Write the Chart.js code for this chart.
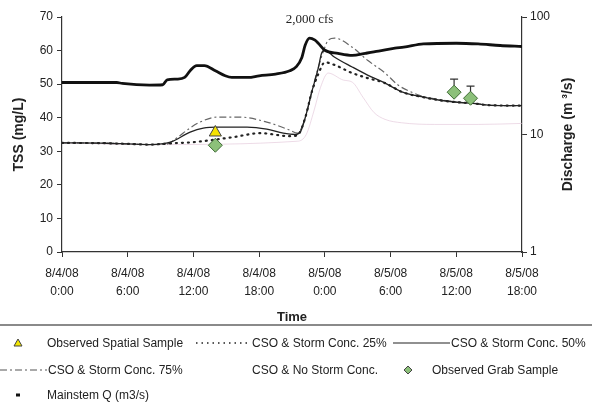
<!DOCTYPE html>
<html lang="en">
<head>
<meta charset="UTF-8">
<title>TSS and discharge</title>
<script src="https://cdn.jsdelivr.net/npm/chart.js"></script>
<style>
  body { margin: 0; background: #fff; font-family: "Liberation Sans", Arial, sans-serif; color: #222; }
  #wrap { position: relative; width: 592px; height: 408px; overflow: hidden; }
  #chart { position: absolute; left: 0; top: 0; }
  .sep { position: absolute; left: 0; top: 324px; width: 592px; height: 2px; background: #8a8a8a; }
  .lg { position: absolute; font-size: 12px; line-height: 14px; white-space: nowrap; }
  #marks { position: absolute; left: 0; top: 326px; }
</style>
</head>
<body>
<div id="wrap">
  <canvas id="chart" width="592" height="327"></canvas>
  <div class="sep"></div>
  <svg id="marks" width="592" height="82">
    <polygon points="18,13 22,20 14,20" fill="#f2e600" stroke="#444" stroke-width="1"/>
    <line x1="196" y1="17" x2="250" y2="17" stroke="#222" stroke-width="1.6" stroke-dasharray="1.5 4"/>
    <line x1="393" y1="17" x2="450" y2="17" stroke="#222" stroke-width="1.2"/>
    <line x1="0" y1="44" x2="47" y2="44" stroke="#555" stroke-width="1.2" stroke-dasharray="7 3 2 3"/>
    <polygon points="408,40 412,44 408,48 404,44" fill="#8cc07a" stroke="#444" stroke-width="1"/>
    <rect x="16" y="67.5" width="4" height="3" fill="#111"/>
  </svg>
  <div class="lg" style="left:47px; top:336px;">Observed Spatial Sample</div>
  <div class="lg" style="left:252px; top:336px;">CSO &amp; Storm Conc. 25%</div>
  <div class="lg" style="left:451px; top:336px;">CSO &amp; Storm Conc. 50%</div>
  <div class="lg" style="left:48px; top:363px;">CSO &amp; Storm Conc. 75%</div>
  <div class="lg" style="left:252px; top:363px;">CSO &amp; No Storm Conc.</div>
  <div class="lg" style="left:432px; top:363px;">Observed Grab Sample</div>
  <div class="lg" style="left:47px; top:388px;">Mainstem Q (m3/s)</div>
</div>

<script>
// hours since 8/4/08 0:00
const timeLabels = [
  ["8/4/08", "0:00"], ["8/4/08", "6:00"], ["8/4/08", "12:00"], ["8/4/08", "18:00"],
  ["8/5/08", "0:00"], ["8/5/08", "6:00"], ["8/5/08", "12:00"], ["8/5/08", "18:00"]
];
const qTicks = [1, 10, 100];

// CSO & Storm Conc. 25% (TSS mg/L)
const t25 = [0, 4, 6, 8, 10.1, 11.9, 15.6, 18.1, 20.8, 21.5, 22.2, 22.8, 23.4, 24.0, 24.9, 26.5, 27.9, 29.5, 31.1, 33.0, 34.5, 36.1, 37.5, 39.1, 42];
const v25 = [32.5, 32.4, 32.2, 32.0, 32.4, 32.7, 34.2, 35.4, 34.5, 34.8, 39.9, 47.6, 53.0, 56.5, 55.7, 53.3, 51.8, 50.3, 47.6, 46.1, 45.2, 44.6, 44.3, 43.7, 43.6];

// CSO & Storm Conc. 50%
const t50 = [0, 4, 6, 8, 9.9, 11.7, 12.9, 14.2, 16.9, 18.7, 20.2, 21.3, 21.8, 22.2, 22.8, 23.4, 23.7, 24.0, 24.9, 26.5, 27.9, 29.5, 31.1, 33.0, 34.5, 36.1, 37.5, 39.1, 42];
const v50 = [32.5, 32.4, 32.2, 32.0, 32.7, 35.7, 36.9, 37.2, 37.2, 36.6, 35.4, 35.0, 36.0, 39.9, 47.6, 54.8, 59.2, 60.1, 58.0, 55.1, 52.7, 50.3, 47.6, 46.1, 45.2, 44.6, 44.3, 43.7, 43.6];

// CSO & Storm Conc. 75%
const t75 = [0, 4, 6, 8, 9.5, 10.5, 11.5, 12.6, 14.2, 16.2, 18.7, 20.8, 21.5, 22.2, 22.8, 23.4, 24.0, 24.3, 24.9, 26.5, 27.9, 29.5, 30.7, 32.0, 33.0, 34.5, 36.1, 37.5, 39.1, 42];
const v75 = [32.5, 32.4, 32.2, 32.0, 32.1, 34.0, 36.5, 38.7, 40.2, 40.2, 38.7, 36.3, 35.4, 39.9, 47.6, 55.0, 61.0, 63.1, 63.7, 61.0, 57.1, 53.3, 49.7, 47.5, 46.3, 45.4, 44.6, 44.3, 43.7, 43.6];

// CSO & No Storm Conc.
const tNo = [0, 8, 21.5, 22.3, 23.0, 23.6, 24.3, 25.7, 26.5, 27.5, 28.5, 29.5, 31.0, 34.0, 38.0, 42];
const vNo = [32.5, 32.0, 33.0, 35.0, 42.0, 49.0, 53.3, 51.2, 50.6, 46.0, 41.5, 39.5, 38.5, 38.0, 38.0, 38.3];

// observed samples
const spatialTime = [14.0];
const spatialTSS = [35.6];
const grabTime = [14.0, 35.8, 37.3];
const grabTSS = [31.8, 47.6, 45.8];
const grabUpper = [null, 51.5, 49.4];

// Mainstem Q (m3/s), right axis
const tQ = [0, 5, 5.5, 8, 9.2, 9.6, 10.5, 11.2, 11.7, 12.3, 13, 14, 14.9, 15.5, 17, 18, 19.5, 20.8, 21.4, 21.9, 22.2, 22.6, 23.1, 23.4, 24.0, 25.2, 26.5, 27.7, 28.9, 30.4, 31.2, 33, 36, 38, 40, 42];
const mainQ = [27.7, 27.7, 27.2, 26.3, 26.5, 29.2, 29.6, 30.6, 34.9, 38.6, 38.6, 34.9, 31.6, 30.6, 30.6, 31.6, 32.7, 34.9, 37.8, 45.3, 57.5, 66.1, 63.5, 59.8, 52.1, 49.1, 47.2, 49.1, 51.2, 54.4, 55.3, 59.0, 59.8, 59.0, 57.2, 56.1];

const pts = (t, v) => t.map((x, i) => ({ x: x, y: v[i] }));
const font = '"Liberation Sans", Arial, sans-serif';

const extras = {
  id: 'extras',
  beforeDatasetsDraw(chart) {
    const ctx = chart.ctx, x = chart.scales.x, y = chart.scales.y;
    ctx.save();
    ctx.strokeStyle = '#333';
    ctx.lineWidth = 1.2;
    grabTime.forEach((t, i) => {
      if (grabUpper[i] == null) return;
      const px = x.getPixelForValue(t);
      const top = y.getPixelForValue(grabUpper[i]);
      ctx.beginPath();
      ctx.moveTo(px, y.getPixelForValue(grabTSS[i]));
      ctx.lineTo(px, top);
      ctx.moveTo(px - 4, top);
      ctx.lineTo(px + 4, top);
      ctx.stroke();
    });
    ctx.restore();
  },
  afterDraw(chart) {
    const ctx = chart.ctx, a = chart.chartArea;
    ctx.save();
    ctx.fillStyle = '#222';
    ctx.textAlign = 'center';
    ctx.textBaseline = 'middle';
    ctx.font = '13px "Liberation Serif", "Times New Roman", serif';
    ctx.fillText('2,000 cfs', chart.scales.x.getPixelForValue(22.6), chart.scales.y.getPixelForValue(69.3));
    ctx.font = 'bold 14px ' + font;
    ctx.translate(chart.scales.y1.right - 24, (a.top + a.bottom) / 2);
    ctx.rotate(-Math.PI / 2);
    ctx.fillText('Discharge (m \u00b3/s)', 0, 0);
    ctx.restore();
  }
};

const axisGrid = { drawOnChartArea: false, drawTicks: true, tickLength: 5, color: '#333' };
const axisBorder = { color: '#333', width: 1.2 };

new Chart(document.getElementById('chart').getContext('2d'), {
  type: 'line',
  data: {
    datasets: [
      { label: 'Observed Spatial Sample', data: pts(spatialTime, spatialTSS), yAxisID: 'y', showLine: false,
        pointStyle: 'triangle', pointRadius: 7, backgroundColor: '#f5e300', borderColor: '#444', borderWidth: 1, order: 0 },
      { label: 'Observed Grab Sample', data: pts(grabTime, grabTSS), yAxisID: 'y', showLine: false,
        pointStyle: 'rectRot', pointRadius: 7, backgroundColor: '#8cc07a', borderColor: '#3f6b35', borderWidth: 1, order: 1 },
      { label: 'CSO & Storm Conc. 25%', data: pts(t25, v25), yAxisID: 'y', borderColor: '#222', borderWidth: 2.2,
        borderDash: [1, 5], borderCapStyle: 'round', pointRadius: 0, cubicInterpolationMode: 'monotone', order: 4 },
      { label: 'CSO & Storm Conc. 50%', data: pts(t50, v50), yAxisID: 'y', borderColor: '#222', borderWidth: 1.3,
        pointRadius: 0, cubicInterpolationMode: 'monotone', order: 3 },
      { label: 'CSO & Storm Conc. 75%', data: pts(t75, v75), yAxisID: 'y', borderColor: '#666', borderWidth: 1.2,
        borderDash: [7, 3, 2, 3], pointRadius: 0, cubicInterpolationMode: 'monotone', order: 5 },
      { label: 'CSO & No Storm Conc.', data: pts(tNo, vNo), yAxisID: 'y', borderColor: 'rgba(225,195,215,0.6)', borderWidth: 1,
        pointRadius: 0, cubicInterpolationMode: 'monotone', order: 6 },
      { label: 'Mainstem Q (m3/s)', data: pts(tQ, mainQ), yAxisID: 'y1', borderColor: '#111', borderWidth: 2.8,
        pointRadius: 0, cubicInterpolationMode: 'monotone', order: 2 }
    ]
  },
  options: {
    responsive: false,
    animation: false,
    devicePixelRatio: 1,
    layout: { padding: { top: 17, left: 0, right: 0, bottom: 0 } },
    plugins: { legend: { display: false }, tooltip: { enabled: false } },
    scales: {
      x: {
        type: 'linear', min: 0, max: 42,
        grid: axisGrid, border: axisBorder,
        ticks: { stepSize: 6, color: '#222', padding: 8, font: { family: font, size: 12, lineHeight: 1.5 },
          callback: (v, i) => timeLabels[i] },
        title: { display: true, text: 'Time', color: '#222', font: { family: font, size: 13, weight: 'bold' },
          padding: { top: 2, bottom: 2 } },
        afterFit: s => { s.height = 75; }
      },
      y: {
        position: 'left', min: 0, max: 70,
        grid: axisGrid, border: axisBorder,
        ticks: { stepSize: 10, color: '#222', padding: 4, font: { family: font, size: 12 } },
        title: { display: true, text: 'TSS (mg/L)', color: '#222', font: { family: font, size: 14, weight: 'bold' },
          padding: { top: 11, bottom: 0 } },
        afterFit: s => { s.width = 62; }
      },
      y1: {
        type: 'logarithmic', position: 'right', min: 1, max: 100,
        grid: axisGrid, border: axisBorder,
        ticks: { color: '#222', padding: 3, font: { family: font, size: 12 }, callback: v => String(v) },
        afterBuildTicks: s => { s.ticks = qTicks.map(v => ({ value: v })); },
        afterFit: s => { s.width = 70; }
      }
    }
  },
  plugins: [extras]
});
</script>
</body>
</html>
